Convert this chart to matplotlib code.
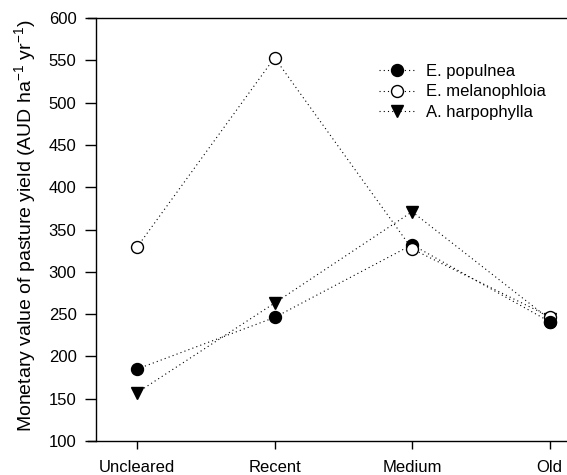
import matplotlib
matplotlib.use("Agg")
import matplotlib.pyplot as plt
from matplotlib.lines import Line2D

plt.rcParams['font.family'] = ['Liberation Sans', 'DejaVu Sans']
plt.rcParams['mathtext.fontset'] = 'custom'
plt.rcParams['mathtext.rm'] = 'Liberation Sans'
plt.rcParams['mathtext.it'] = 'Liberation Sans:italic'
plt.rcParams['mathtext.bf'] = 'Liberation Sans:bold'

# Clearing-age classes on the x axis
categories = ["Uncleared", "Recent", "Medium", "Old"]

# Monetary value of pasture yield (AUD/ha/yr) per vegetation community
populnea = [185, 246, 332, 241]
melanophloia = [329, 553, 327, 247]
harpophylla = [157, 263, 371, 244]

yticks = [100, 150, 200, 250, 300, 350, 400, 450, 500, 550, 600]

W, H = 567, 475
fig = plt.figure(figsize=(W / 100, H / 100), dpi=100)
ax = fig.add_axes([88 / W, 1 - 441 / H, (W - 88) / W, (441 - 18) / H])

x = list(range(len(categories)))
dot = (0, (1, 2.8))
common = dict(color='black', linestyle=dot, linewidth=0.8, markersize=8.6,
              markeredgecolor='black', markeredgewidth=1.0)

ax.plot(x, harpophylla, marker='v', markerfacecolor='black', zorder=3,
        label='A. harpophylla', **common)
ax.plot(x, melanophloia, marker='o', markerfacecolor='white', zorder=4,
        label='E. melanophloia', **common)
ax.plot(x, populnea, marker='o', markerfacecolor='black', zorder=3,
        label='E. populnea', **common)
# the filled circle sits in front where the series meet at the last class
ax.plot(x[-1:], populnea[-1:], marker='o', color='black', markersize=8.6,
        linestyle='none', zorder=5)

ax.set_xlim(-0.356, 3.126)
ax.set_ylim(100, 600)
ax.set_xticks(x)
ax.set_xticklabels(categories)
ax.set_yticks(yticks)

ax.spines['right'].set_visible(False)
ax.spines['left'].set_position(('data', -0.298))
for s in ['left', 'top', 'bottom']:
    ax.spines[s].set_linewidth(1.0)

ax.tick_params(axis='y', direction='out', length=8, width=1.0, pad=6,
               labelsize=12)
ax.tick_params(axis='x', direction='out', length=6, width=1.0, pad=8,
               labelsize=12)

fig.text(25 / W, 1 - 226 / H,
         'Monetary value of pasture yield (AUD ha$^{-1}$ yr$^{-1}$)',
         rotation=90, ha='center', va='center', fontsize=14)

handles = [
    Line2D([], [], marker='o', markerfacecolor='black', **common),
    Line2D([], [], marker='o', markerfacecolor='white', **common),
    Line2D([], [], marker='v', markerfacecolor='black', **common),
]
labels = ['E. populnea', 'E. melanophloia', 'A. harpophylla']
fig.legend(handles, labels, loc='center left',
           bbox_to_anchor=(379 / W, 1 - 92 / H), frameon=False,
           fontsize=12, handlelength=2.2, handletextpad=0.6,
           labelspacing=0.32, borderpad=0, borderaxespad=0, numpoints=1)

fig.savefig('out.png', dpi=100)
